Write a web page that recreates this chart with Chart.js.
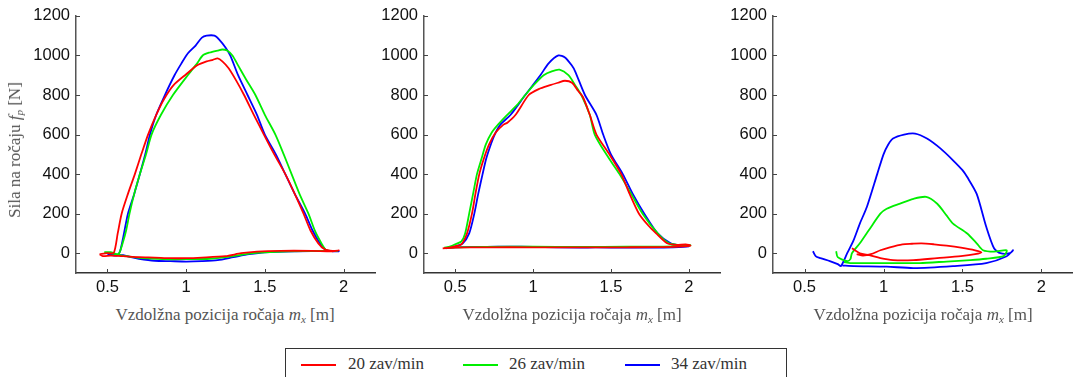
<!DOCTYPE html>
<html>
<head>
<meta charset="utf-8">
<script src="https://cdn.jsdelivr.net/npm/chart.js@4.4.1/dist/chart.umd.min.js"></script>
<style>
  body { margin: 0; background: #fff; width: 1073px; height: 377px; overflow: hidden; position: relative; font-family: "Liberation Serif", serif; }
  canvas { position: absolute; top: 0; }
  .xtitle { position: absolute; top: 305px; font-size: 17px; color: #555; white-space: nowrap; transform: translateX(-50%); }
  .ytitle { position: absolute; left: 15px; top: 150px; font-size: 17px; color: #555; white-space: nowrap; transform: translate(-50%, -50%) rotate(-90deg); }
  sub { font-size: 11px; vertical-align: -3px; }
  #legend { position: absolute; left: 285px; top: 348px; width: 502px; height: 40px; border: 1px solid #333; box-sizing: border-box; }
  .li { position: absolute; top: 15px; height: 2px; width: 35px; }
  .lt { position: absolute; top: 5px; font-size: 17px; color: #333; white-space: nowrap; }
</style>
</head>
<body>
<canvas id="c1" width="380" height="303" style="left:0px"></canvas>
<canvas id="c2" width="375" height="303" style="left:350px"></canvas>
<canvas id="c3" width="373" height="303" style="left:700px"></canvas>

<div class="ytitle">Sila na ročaju <i>f</i><sub><i>p</i></sub> [N]</div>
<div class="xtitle" style="left:225px">Vzdolžna pozicija ročaja <i>m</i><sub><i>x</i></sub> [m]</div>
<div class="xtitle" style="left:572px">Vzdolžna pozicija ročaja <i>m</i><sub><i>x</i></sub> [m]</div>
<div class="xtitle" style="left:923px">Vzdolžna pozicija ročaja <i>m</i><sub><i>x</i></sub> [m]</div>

<div id="legend">
  <div class="li" style="left:15px;background:#ff0000"></div><div class="lt" style="left:62px">20 zav/min</div>
  <div class="li" style="left:177px;background:#00ee00"></div><div class="lt" style="left:223px">26 zav/min</div>
  <div class="li" style="left:339px;background:#0000ff"></div><div class="lt" style="left:385px">34 zav/min</div>
</div>

<script>
const seriesNames = ['20 zav/min', '26 zav/min', '34 zav/min'];
const seriesColors = ['#ff0000', '#00ee00', '#0000ff'];
const xTicks = [0.5, 1, 1.5, 2];
const yTicks = [0, 200, 400, 600, 800, 1000, 1200];

// panel 1
const p1Red = [[0.45,-5],[0.50,0],[0.54,2],[0.565,100],[0.59,200],[0.63,300],[0.674,400],[0.715,500],[0.758,600],[0.81,700],[0.86,780],[0.92,850],[1.0,905],[1.07,950],[1.13,970],[1.17,978],[1.20,985],[1.23,970],[1.27,935],[1.32,870],[1.368,800],[1.43,700],[1.494,600],[1.56,500],[1.63,400],[1.69,300],[1.746,200],[1.79,115],[1.84,50],[1.88,20],[1.93,12],[1.97,14],[1.93,10],[1.80,12],[1.60,12],[1.45,8],[1.35,0],[1.25,-15],[1.10,-22],[1.00,-25],[0.90,-25],[0.80,-22],[0.70,-20],[0.60,-15],[0.52,-12],[0.47,-15],[0.45,-5]];
const p1Green = [[0.48,5],[0.52,5],[0.56,-5],[0.575,0],[0.60,60],[0.62,120],[0.64,200],[0.67,300],[0.706,400],[0.745,500],[0.78,600],[0.84,700],[0.916,800],[1.01,900],[1.07,960],[1.105,1000],[1.15,1015],[1.20,1025],[1.23,1030],[1.26,1025],[1.294,1000],[1.33,950],[1.38,880],[1.44,800],[1.50,700],[1.567,600],[1.62,500],[1.67,400],[1.72,300],[1.777,200],[1.82,110],[1.86,50],[1.89,15],[1.93,12],[1.96,12],[1.85,12],[1.65,10],[1.50,5],[1.40,-2],[1.30,-15],[1.15,-28],[1.00,-30],[0.85,-30],[0.72,-25],[0.62,-15],[0.55,-5],[0.48,5]];
const p1Blue = [[0.50,-5],[0.53,-10],[0.56,-12],[0.58,10],[0.60,80],[0.63,200],[0.67,300],[0.706,400],[0.74,500],[0.77,600],[0.81,700],[0.865,800],[0.926,900],[0.97,960],[1.01,1010],[1.06,1050],[1.10,1090],[1.13,1100],[1.18,1100],[1.21,1080],[1.25,1040],[1.28,1000],[1.33,900],[1.39,800],[1.45,700],[1.50,600],[1.57,500],[1.63,400],[1.69,300],[1.756,200],[1.80,120],[1.85,50],[1.89,15],[1.93,10],[1.97,10],[1.90,12],[1.70,10],[1.50,5],[1.40,-5],[1.30,-20],[1.20,-35],[1.10,-40],[1.00,-42],[0.90,-40],[0.80,-38],[0.70,-28],[0.65,-20],[0.60,-10],[0.55,-8],[0.50,-5]];

// panel 2
const p2Red = [[0.42,25],[0.46,28],[0.50,35],[0.54,45],[0.576,100],[0.608,200],[0.63,300],[0.655,400],[0.685,480],[0.718,550],[0.76,610],[0.81,650],[0.835,660],[0.888,700],[0.972,800],[1.036,830],[1.11,850],[1.16,862],[1.205,872],[1.25,862],[1.29,820],[1.32,790],[1.364,700],[1.407,600],[1.49,500],[1.566,400],[1.62,300],[1.68,200],[1.74,140],[1.79,100],[1.86,50],[1.92,42],[1.98,45],[2.01,38],[1.90,32],[1.60,30],[1.30,30],[1.00,30],[0.70,30],[0.50,28],[0.42,25]];
const p2Green = [[0.43,28],[0.47,35],[0.50,45],[0.54,60],[0.564,100],[0.59,200],[0.615,300],[0.64,400],[0.67,480],[0.697,550],[0.735,610],[0.775,650],[0.835,700],[0.898,750],[0.95,800],[1.004,850],[1.068,900],[1.12,920],[1.17,928],[1.227,900],[1.27,850],[1.31,800],[1.364,700],[1.396,600],[1.47,500],[1.555,400],[1.63,300],[1.703,200],[1.80,100],[1.872,50],[1.94,42],[2.01,40],[1.90,35],[1.60,33],[1.30,32],[1.00,33],[0.70,32],[0.50,30],[0.43,28]];
const p2Blue = [[0.44,25],[0.50,35],[0.549,50],[0.59,100],[0.623,200],[0.648,300],[0.676,400],[0.70,480],[0.729,550],[0.754,600],[0.79,650],[0.856,700],[0.95,800],[1.047,900],[1.10,960],[1.163,1000],[1.205,990],[1.248,950],[1.27,920],[1.333,800],[1.407,700],[1.45,600],[1.50,500],[1.576,400],[1.64,300],[1.714,200],[1.80,100],[1.883,50],[1.95,38],[2.0,35],[1.90,30],[1.60,28],[1.40,30],[1.30,28],[1.00,32],[0.85,33],[0.70,32],[0.50,30],[0.44,25]];

// panel 3
const p3Red = [[0.80,25],[0.85,0],[0.91,-10],[0.98,-25],[1.06,-35],[1.19,-35],[1.34,-25],[1.49,-15],[1.58,-5],[1.62,5],[1.58,15],[1.49,28],[1.40,38],[1.32,45],[1.24,50],[1.18,48],[1.12,45],[1.04,30],[0.98,15],[0.92,-5],[0.87,-12],[0.83,-5]];
const p3Green = [[0.70,10],[0.71,-20],[0.77,-40],[0.79,-30],[0.80,0],[0.85,50],[0.91,120],[0.98,200],[1.02,225],[1.10,250],[1.19,275],[1.27,285],[1.34,250],[1.40,190],[1.44,150],[1.53,100],[1.59,50],[1.63,15],[1.70,8],[1.78,15],[1.76,-15],[1.65,-28],[1.55,-35],[1.40,-42],[1.23,-50],[1.05,-50],[0.91,-50],[0.79,-50],[0.75,-45]];
const p3Blue = [[0.553,10],[0.57,-15],[0.60,-25],[0.66,-40],[0.71,-55],[0.73,-65],[0.77,0],[0.81,65],[0.85,150],[0.895,235],[0.96,400],[1.0,500],[1.03,550],[1.06,580],[1.13,600],[1.20,605],[1.275,580],[1.36,530],[1.44,470],[1.50,420],[1.53,385],[1.59,300],[1.65,135],[1.70,25],[1.74,0],[1.80,0],[1.82,15],[1.78,-15],[1.65,-50],[1.44,-65],[1.19,-75],[1.02,-68],[0.81,-65],[0.74,-62]];

const innerTicks = {
  id: 'innerTicks',
  afterDraw(chart) {
    const { ctx, chartArea, scales } = chart;
    ctx.save();
    ctx.strokeStyle = '#444';
    ctx.lineWidth = 1;
    ctx.beginPath();
    yTicks.forEach(v => {
      const y = Math.round(scales.y.getPixelForValue(v)) + 0.5;
      ctx.moveTo(chartArea.left, y);
      ctx.lineTo(chartArea.left + 4, y);
    });
    xTicks.forEach(v => {
      const x = Math.round(scales.x.getPixelForValue(v)) + 0.5;
      ctx.moveTo(x, chartArea.bottom);
      ctx.lineTo(x, chartArea.bottom - 4);
    });
    ctx.stroke();
    ctx.restore();
  }
};

function makeChart(id, series, yWidth, rightPad) {
  const datasets = series.map((pts, i) => ({
    label: seriesNames[i],
    data: pts.map(p => ({ x: p[0], y: p[1] })),
    borderColor: seriesColors[i],
    borderWidth: 1.8,
    showLine: true,
    pointRadius: 0,
    tension: 0.25,
    fill: false
  }));
  new Chart(document.getElementById(id), {
    type: 'scatter',
    data: { datasets },
    options: {
      responsive: false,
      animation: false,
      layout: { padding: { top: 15, right: rightPad, left: 0, bottom: 0 } },
      plugins: { legend: { display: false }, tooltip: { enabled: false } },
      scales: {
        x: {
          type: 'linear', min: 0.3, max: 2.2,
          afterBuildTicks: s => { s.ticks = xTicks.map(v => ({ value: v })); },
          afterFit: s => { s.height = 30; },
          grid: { display: false, drawTicks: false },
          border: { display: true, color: '#333', width: 1.5 },
          ticks: { color: '#111', padding: 5, font: { family: 'Liberation Sans', size: 16.5 }, callback: v => String(v) }
        },
        y: {
          type: 'linear', min: -100, max: 1200,
          afterBuildTicks: s => { s.ticks = yTicks.map(v => ({ value: v })); },
          afterFit: s => { s.width = yWidth; },
          grid: { display: false, drawTicks: false },
          border: { display: true, color: '#555', width: 1.5 },
          ticks: { color: '#111', padding: 6, font: { family: 'Liberation Sans', size: 16.5 }, callback: v => String(v) }
        }
      }
    },
    plugins: [innerTicks]
  });
}

makeChart('c1', [p1Red, p1Green, p1Blue], 76, 5);
makeChart('c2', [p2Red, p2Green, p2Blue], 74, 5);
makeChart('c3', [p3Red, p3Green, p3Blue], 73, 0);
</script>
</body>
</html>
